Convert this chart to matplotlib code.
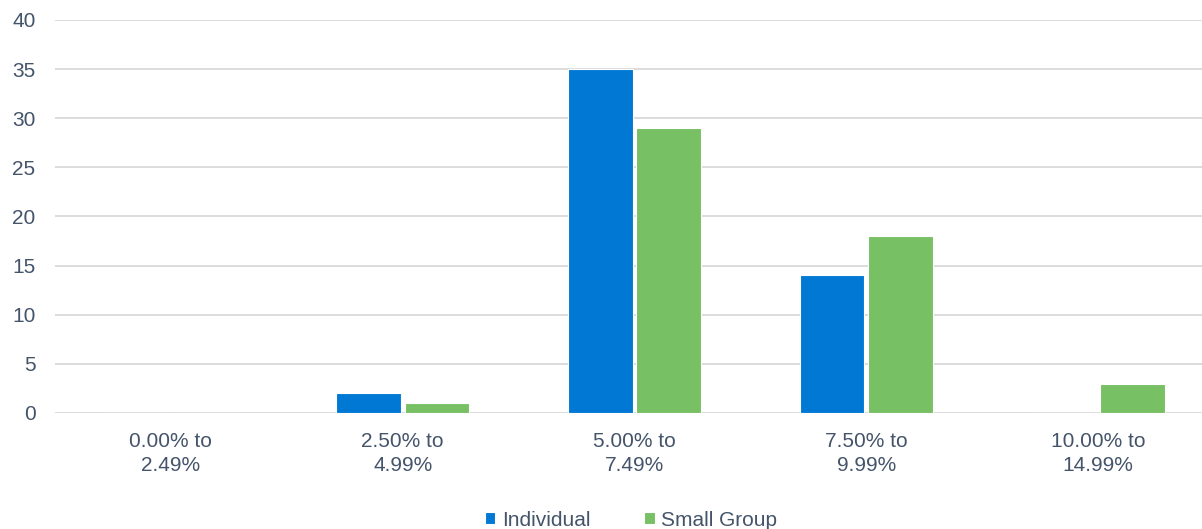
import numpy as np
import matplotlib.pyplot as plt

plt.rcParams['font.family'] = ['Liberation Sans', 'DejaVu Sans']

# rate increase buckets and counts per market
categories = ["0.00% to\n2.49%", "2.50% to\n4.99%", "5.00% to\n7.49%", "7.50% to\n9.99%", "10.00% to\n14.99%"]
individual = [0, 2, 35, 14, 0]
small_group = [0, 1, 29, 18, 3]

blue = "#0078D4"
green = "#77C063"
txt = "#44546A"

fig = plt.figure(figsize=(12.02, 5.29), dpi=100)
ax = fig.add_axes([55/1202, 1-413/529, (1214-55)/1202, (413-20)/529])

x = np.arange(len(categories))
w = 0.28
ax.bar(x-0.148, individual, w, color=blue, edgecolor="white", linewidth=0.8, label="Individual", zorder=3)
ax.bar(x+0.148, small_group, w, color=green, edgecolor="white", linewidth=0.8, label="Small Group", zorder=3)

ax.set_xlim(-0.5, len(categories)-0.5)
ax.set_ylim(0, 40)
ax.set_yticks(range(0, 41, 5))
ax.set_xticks(x)
ax.set_xticklabels(categories, linespacing=1.3)
ax.grid(axis="y", color="#D9D9D9", linewidth=1.3, zorder=0)
for s in ax.spines.values():
    s.set_visible(False)
ax.tick_params(length=0, labelsize=15, colors=txt)
ax.tick_params(axis="x", pad=14)
ax.tick_params(axis="y", pad=14)

fig.legend(loc="center", bbox_to_anchor=(0.525, 0.017), ncol=2, frameon=False, fontsize=15,
           handlelength=0.5, handleheight=0.5, handletextpad=0.3, columnspacing=2.6, labelcolor=txt)

plt.savefig("out.png", dpi=100)
